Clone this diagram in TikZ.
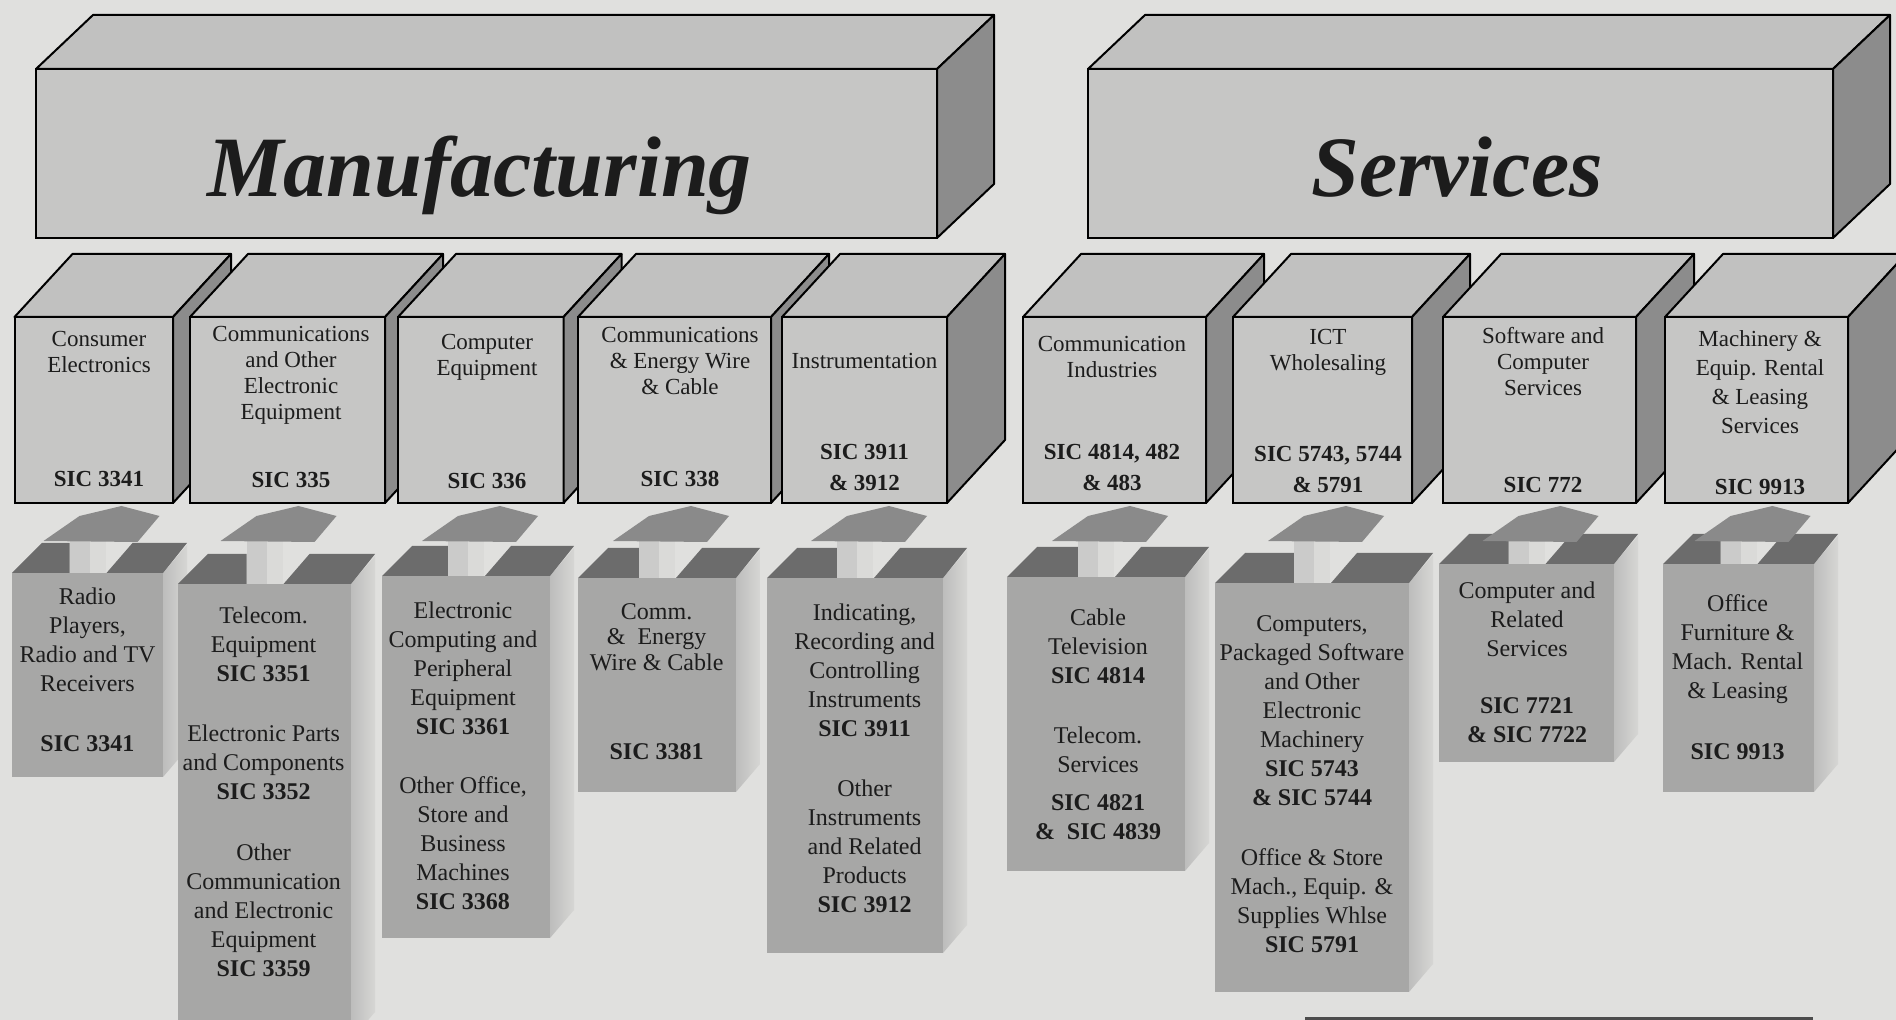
\documentclass[tikz,border=0pt]{standalone}
\usepackage{fontspec}
\setmainfont{Liberation Serif}
\usetikzlibrary{calc,fit}
\definecolor{bgc}{HTML}{E0E0DE}
\definecolor{ufc}{HTML}{C6C6C5}
\definecolor{utc}{HTML}{C1C1C0}
\definecolor{usc}{HTML}{8C8C8C}
\definecolor{lfc}{HTML}{A7A7A6}
\definecolor{ldc}{HTML}{6C6C6C}
\definecolor{lsa}{HTML}{BDBDBC}
\definecolor{lsb}{HTML}{D6D6D4}
\definecolor{shc}{HTML}{CBCBCA}
\definecolor{shh}{HTML}{DADAD8}
\definecolor{hdc}{HTML}{8A8A8A}
\definecolor{txt}{HTML}{1C1C1C}
\newcommand{\mkubox}[7]{%
  \node[ufront, fit={(#2,#3) (#4,#5)}] (#1) {};
  \filldraw[utop] (#1.north west) -- ++(#6,#7) -- ([shift={(#6,#7)}]#1.north east) -- (#1.north east) -- cycle;
  \filldraw[uside] (#1.north east) -- ++(#6,#7) -- ([shift={(#6,#7)}]#1.south east) -- (#1.south east) -- cycle;
}
\newcommand{\mklbox}[6]{%
  \node[lfront, fit={(#2,#3) (#4,#5)}] (#1) {};
  \shade[lside] (#1.north east) -- ++(24,-28) -- ([shift={(24,-28)}]#1.south east) -- (#1.south east) -- cycle;
  \fill[ldark] (#1.north west) -- ++(30,-30) -- ($(#1.north)+(-18,-30)$) -- ($(#1.north)+(-18,0)$) -- cycle;
  \fill[ldark] ($(#1.north)+(19,0)$) -- ++(26,-30) -- ([shift={(24,-30)}]#1.north east) -- (#1.north east) -- cycle;
  \fill[lshaft] ($(#1.north |- #6.south)+(-18,35)$) rectangle ($(#1.north)+(18,0)$);
  \fill[lshafthi] ($(#1.north |- #6.south)+(2,35)$) rectangle ($(#1.north)+(18,0)$);
  \fill[lhead] ($(#1.north |- #6.south)+(-44,38)$) -- ($(#1.north |- #6.south)+(-8,13)$)
     -- ($(#1.north |- #6.south)+(34,3)$) -- ($(#1.north |- #6.south)+(72,13)$)
     -- ($(#1.north |- #6.south)+(50,39)$) -- cycle;
}
\begin{document}
\begin{tikzpicture}[x=0.5pt,y=-0.5pt,
  ufront/.style={draw=black, line width=1pt, fill=ufc, inner sep=0pt, outer sep=0pt},
  utop/.style={draw=black, line width=1pt, fill=utc, line join=round},
  uside/.style={draw=black, line width=1pt, fill=usc, line join=round},
  title/.style={font=\fontsize{43}{50}\selectfont\bfseries\itshape, text=txt, anchor=base, inner sep=0pt},
  uname/.style={font=\fontsize{11.5}{13}\selectfont, align=center, text=txt, inner sep=0pt},
  usic/.style={font=\fontsize{11.5}{15.5}\selectfont\bfseries, align=center, text=txt, inner sep=0pt},
  lfront/.style={fill=lfc, inner sep=0pt, outer sep=0pt},
  ldark/.style={fill=ldc},
  lside/.style={left color=lsa, right color=lsb},
  lshaft/.style={fill=shc},
  lshafthi/.style={fill=shh},
  lhead/.style={fill=hdc},
  lname/.style={font=\fontsize{12}{14.5}\selectfont, align=center, text=txt, inner sep=0pt},
  lsic/.style={font=\fontsize{12}{14.5}\selectfont\bfseries, align=center, text=txt, inner sep=0pt},
]
\useasboundingbox (0,0) rectangle (1896,1020);
\clip (0,0) rectangle (1896,1020);
\fill[bgc] (0,0) rectangle (1896,1020);

% ---- top category boxes
\mkubox{man}{36}{69}{937}{238}{57}{-54}
\mkubox{ser}{1088}{69}{1833}{238}{57}{-54}
\node[title] (tman) at (479.5,197) {Manufacturing};
\node[title] (tser) at (1457,197) {Services};

% ---- second row boxes
\mkubox{u1}{14.5}{317}{173}{503}{58}{-63}
\mkubox{u2}{190}{317}{385}{503}{58}{-63}
\mkubox{u3}{398}{317}{563.5}{503}{58}{-63}
\mkubox{u4}{578}{317}{771}{503}{58}{-63}
\mkubox{u5}{782}{317}{947}{503}{58}{-63}
\mkubox{u6}{1023}{317}{1206}{503}{58}{-63}
\mkubox{u7}{1233}{317}{1412}{503}{58}{-63}
\mkubox{u8}{1443}{317}{1636}{503}{58}{-63}
\mkubox{u9}{1665}{317}{1848}{503}{58}{-63}

\node[uname] (n1) at (99,352) {Consumer\\Electronics};
\node[usic] (s1) at (99,479) {SIC 3341};
\node[uname] (n2) at (291,375) {Communications\\and Other\\Electronic\\Equipment};
\node[usic] (s2) at (291,480) {SIC 335};
\node[uname] (n3) at (487,357.5) {Computer\\Equipment};
\node[usic] (s3) at (487,481) {SIC 336};
\node[uname] (n4) at (680,361.5) {Communications\\\& Energy Wire\\\& Cable};
\node[usic] (s4) at (680,479) {SIC 338};
\node[uname] (n5) at (864.5,361.5) {Instrumentation};
\node[usic] (s5) at (864.5,468) {SIC 3911\\\& 3912};
\node[uname] (n6) at (1112,357.5) {Communication\\Industries};
\node[usic] (s6) at (1112,467.5) {SIC 4814, 482\\\& 483};
\node[uname] (n7) at (1328,352) {ICT\\Wholesaling};
\node[usic] (s7) at (1328,470) {SIC 5743, 5744\\\& 5791};
\node[uname] (n8) at (1543,361.5) {Software and\\Computer\\Services};
\node[usic] (s8) at (1543,485) {SIC 772};
\node[uname, font=\fontsize{11.5}{14.5}\selectfont] (n9) at (1760,382) {Machinery \&\\Equip. Rental\\\& Leasing\\Services};
\node[usic] (s9) at (1760,487) {SIC 9913};

% ---- lower detail boxes with arrows
\mklbox{l1}{12}{573}{163}{777}{u1}
\mklbox{l2}{178}{584}{351}{1040}{u2}
\mklbox{l3}{382}{576}{550}{938}{u3}
\mklbox{l4}{578}{578}{736}{792}{u4}
\mklbox{l5}{767}{578}{943}{953}{u5}
\mklbox{l6}{1007}{577}{1185}{871}{u6}
\mklbox{l7}{1215}{583}{1409}{992}{u7}
\mklbox{l8}{1439}{564}{1614}{762}{u8}
\mklbox{l9}{1663}{564}{1814}{792}{u9}

\node[lname] (a1) at (87.5,640) {Radio\\Players,\\Radio and TV\\Receivers};
\node[lsic] (b1) at (87.5,744) {SIC 3341};
\node[lname] (a2) at (263.6,644) {Telecom.\\Equipment\\\textbf{SIC 3351}};
\node[lname] (b2) at (263.6,762) {Electronic Parts\\and Components\\\textbf{SIC 3352}};
\node[lname] (c2) at (263.6,910) {Other\\Communication\\and Electronic\\Equipment\\\textbf{SIC 3359}};
\node[lname] (a3) at (463,668) {Electronic\\Computing and\\Peripheral\\Equipment\\\textbf{SIC 3361}};
\node[lname] (b3) at (463,843.5) {Other Office,\\Store and\\Business\\Machines\\\textbf{SIC 3368}};
\node[lname, font=\fontsize{12}{12.8}\selectfont] (a4) at (656.6,637) {Comm.\\\&~~Energy\\Wire \& Cable};
\node[lsic] (b4) at (656.6,752) {SIC 3381};
\node[lname] (a5) at (864.6,670.5) {Indicating,\\Recording and\\Controlling\\Instruments\\\textbf{SIC 3911}};
\node[lname] (b5) at (864.6,846) {Other\\Instruments\\and Related\\Products\\\textbf{SIC 3912}};
\node[lname] (a6) at (1098,646.5) {Cable\\Television\\\textbf{SIC 4814}};
\node[lname] (b6) at (1098,749.5) {Telecom.\\Services};
\node[lsic] (c6) at (1098,817.5) {SIC 4821\\\&~~SIC 4839};
\node[lname] (a7) at (1312,710.5) {Computers,\\Packaged Software\\and Other\\Electronic\\Machinery\\\textbf{SIC 5743}\\\textbf{\& SIC 5744}};
\node[lname] (b7) at (1312,900.7) {Office \& Store\\Mach., Equip. \&\\Supplies Whlse\\\textbf{SIC 5791}};
\node[lname] (a8) at (1527,619) {Computer and\\Related\\Services};
\node[lsic] (b8) at (1527,720.5) {SIC 7721\\\& SIC 7722};
\node[lname] (a9) at (1737.6,649.5) {Office\\Furniture \&\\Mach. Rental\\\& Leasing};
\node[lsic] (b9) at (1737.6,752) {SIC 9913};

% ---- edge of the next element at the bottom
\fill[black!70] (1305,1016.5) rectangle (1813,1020);
\end{tikzpicture}
\end{document}
